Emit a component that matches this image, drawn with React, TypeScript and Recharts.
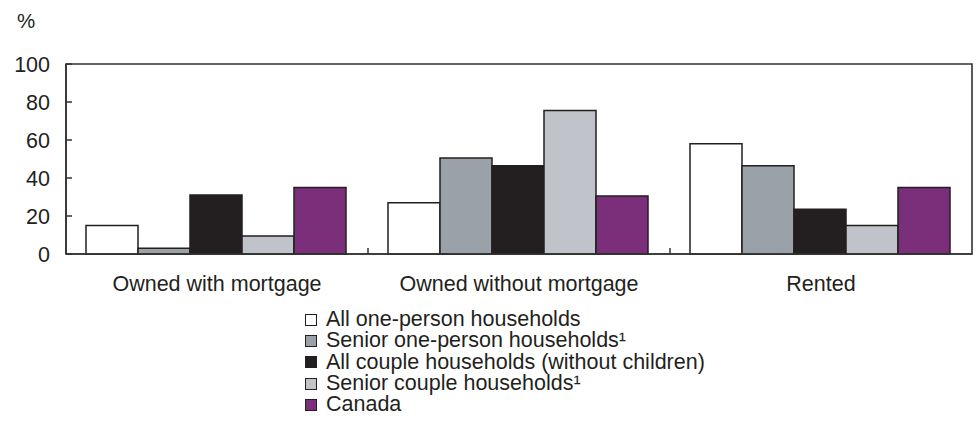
import React from 'react';
import { BarChart, Bar, XAxis, YAxis, Legend, ReferenceArea } from 'recharts';

const categories = ['Owned with mortgage', 'Owned without mortgage', 'Rented'];
const allOnePerson = [15, 27, 58];
const seniorOnePerson = [3, 50.5, 46.5];
const allCouple = [31, 46.5, 23.5];
const seniorCouple = [9.5, 75.5, 15];
const canada = [35, 30.5, 35];
const yTicks = [0, 20, 40, 60, 80, 100];

const seriesNames = [
  'All one-person households',
  'Senior one-person households¹',
  'All couple households (without children)',
  'Senior couple households¹',
  'Canada',
];
const seriesKeys = ['a', 'b', 'c', 'd', 'e'];
const seriesColors = ['#ffffff', '#9aa1a8', '#231f20', '#c0c3ca', '#7b2f7a'];
const seriesValues = [allOnePerson, seniorOnePerson, allCouple, seniorCouple, canada];

const data = categories.map((name, i) => {
  const row: Record<string, string | number> = { name };
  seriesKeys.forEach((k, j) => {
    row[k] = seriesValues[j][i];
  });
  return row;
});

const FONT = '"Liberation Sans", Arial, sans-serif';
const FS = 21.5;
const INK = '#231f20';
const AXIS = '#333333';
const X_TICK_MARGIN = 22;
const Y_TICK_MARGIN = 16;
const ROW_H = 21.3;

const YTick = (props: any) => {
  const { x, y, payload } = props;
  return (
    <g>
      <line
        x1={x + Y_TICK_MARGIN}
        x2={x + Y_TICK_MARGIN + 6}
        y1={y}
        y2={y}
        stroke={AXIS}
        strokeWidth={1.5}
      />
      <text x={x} y={y} dy="0.355em" textAnchor="end" fontSize={FS} fontFamily={FONT} fill={INK}>
        {payload.value}
      </text>
    </g>
  );
};

const XTick = (props: any) => {
  const { x, y, payload, index } = props;
  const half = payload && payload.offset ? payload.offset : 0;
  const axisY = y - X_TICK_MARGIN;
  return (
    <g>
      {index > 0 && half > 0 ? (
        <line x1={x - half} x2={x - half} y1={axisY} y2={axisY - 6} stroke={AXIS} strokeWidth={1.5} />
      ) : null}
      <text x={x} y={y} dy="0.71em" textAnchor="middle" fontSize={FS} fontFamily={FONT} fill={INK}>
        {payload.value}
      </text>
    </g>
  );
};

const LegendContent = () => (
  <div style={{ fontFamily: FONT, fontSize: FS, color: INK }}>
    {seriesNames.map((n, i) => (
      <div
        key={n}
        style={{
          display: 'flex',
          alignItems: 'center',
          height: ROW_H,
          lineHeight: `${ROW_H}px`,
          whiteSpace: 'nowrap',
          overflow: 'visible',
        }}
      >
        <span
          style={{
            display: 'inline-block',
            width: 12,
            height: 12,
            boxSizing: 'border-box',
            border: `1.6px solid ${INK}`,
            background: seriesColors[i],
            marginRight: 9,
          }}
        />
        <span
          style={{
            display: 'inline-block',
            height: ROW_H,
            lineHeight: `${ROW_H}px`,
            overflow: 'visible',
          }}
        >
          {n}
        </span>
      </div>
    ))}
  </div>
);

export default function App() {
  return (
    <div style={{ position: 'absolute', left: 0, top: 0, width: 976, height: 438, background: '#fff' }}>
      <BarChart
        width={976}
        height={438}
        data={data}
        margin={{ top: 64, right: 4, left: 0, bottom: 154 }}
        barGap={0}
        barCategoryGap={20}
      >
        <ReferenceArea y1={0} y2={100} fill="none" stroke={AXIS} strokeWidth={1.6} ifOverflow="visible" />
        <XAxis
          dataKey="name"
          axisLine={{ stroke: AXIS, strokeWidth: 1.6 }}
          tickLine={false}
          tickSize={0}
          tickMargin={X_TICK_MARGIN}
          height={30}
          interval={0}
          tick={<XTick />}
        />
        <YAxis
          width={66}
          domain={[0, 100]}
          ticks={yTicks}
          interval={0}
          tickLine={false}
          tickSize={0}
          tickMargin={Y_TICK_MARGIN}
          axisLine={{ stroke: AXIS, strokeWidth: 1.6 }}
          tick={<YTick />}
          label={{
            value: '%',
            content: (p: any) => {
              const vb = p.viewBox || { x: 0, y: 64 };
              return (
                <text x={vb.x + 26} y={vb.y - 36} textAnchor="middle" fontSize={20.5} fontFamily={FONT} fill={INK}>
                  %
                </text>
              );
            },
          }}
        />
        {seriesKeys.map((k, i) => (
          <Bar
            key={k}
            dataKey={k}
            name={seriesNames[i]}
            fill={seriesColors[i]}
            stroke={INK}
            strokeWidth={1.5}
            isAnimationActive={false}
          />
        ))}
        <Legend
          layout="horizontal"
          verticalAlign="middle"
          align="center"
          content={<LegendContent />}
          wrapperStyle={{ top: 309, left: 305, width: 'auto' }}
        />
      </BarChart>
    </div>
  );
}
